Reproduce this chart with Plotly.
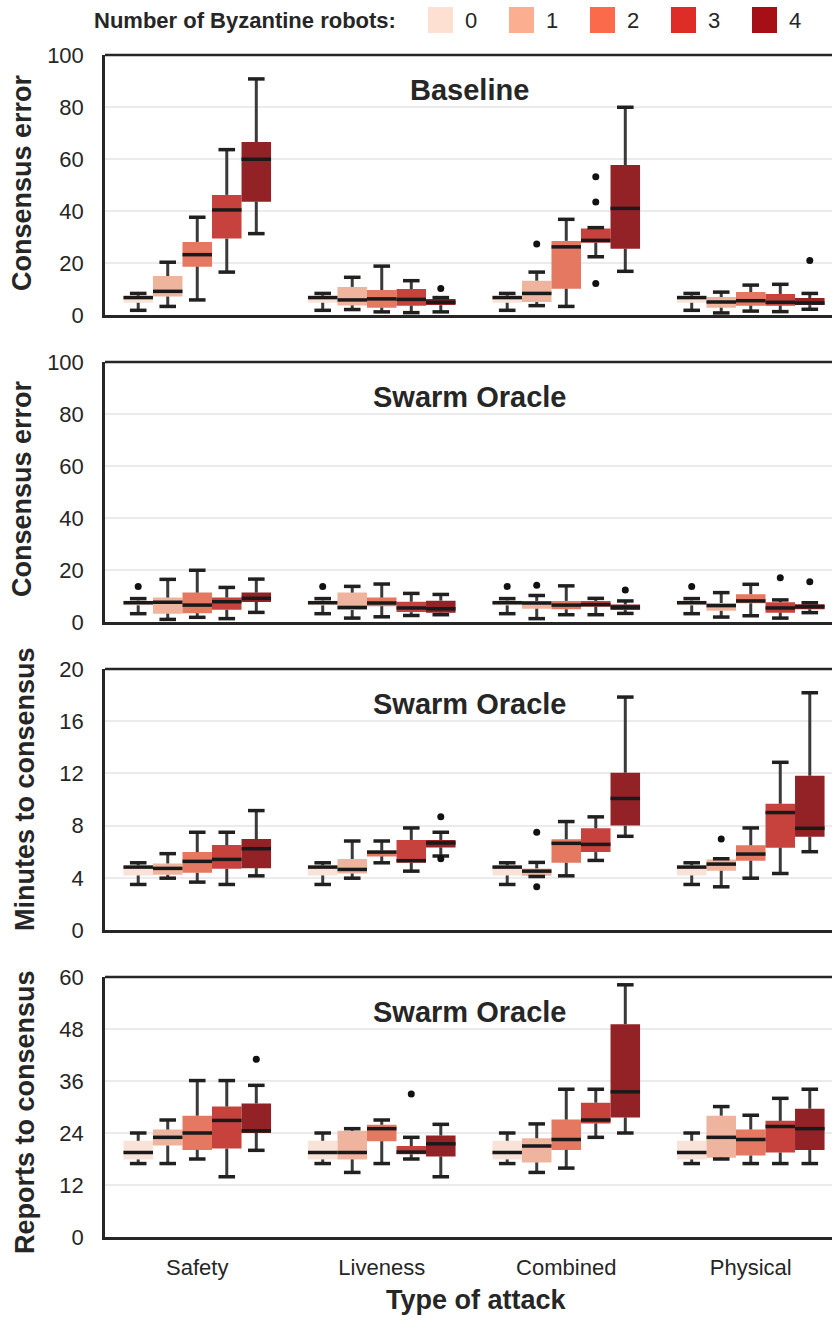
import plotly.graph_objects as go

# ---------------------------------------------------------------- data
ATTACKS = ["Safety", "Liveness", "Combined", "Physical"]
N_BYZANTINE = ["0", "1", "2", "3", "4"]

LEGEND_COLORS = ["#fee0d2", "#fcae91", "#fb6a4a", "#de2d26", "#a50f15"]
BOX_COLORS = ["#f9e2d8", "#efb49e", "#e57860", "#c7423d", "#922226"]

# Each array: [attack][number of Byzantine robots]
# Baseline - consensus error
base_err_low = [[1.8, 3.3, 5.8, 16.5, 31.3], [1.8, 2.1, 1.2, 0.9, 1.2],
                [1.8, 3.6, 3.3, 22.4, 16.8], [1.8, 0.8, 1.5, 1.3, 2.2]]
base_err_q1 = [[4.7, 7.1, 18.6, 29.4, 43.6], [4.7, 3.7, 2.8, 3.6, 3.8],
               [4.7, 5.0, 10.1, 27.8, 25.5], [4.7, 2.8, 3.6, 3.6, 3.8]]
base_err_med = [[6.7, 9.1, 23.2, 40.4, 59.9], [6.7, 5.8, 6.2, 6.0, 4.9],
                [6.7, 8.3, 26.2, 28.7, 41.0], [6.7, 5.0, 5.5, 4.9, 4.6]]
base_err_q3 = [[7.4, 15.0, 28.1, 46.2, 66.5], [7.4, 10.8, 9.6, 10.0, 6.2],
               [7.4, 13.2, 28.5, 33.3, 57.7], [7.4, 6.9, 8.8, 8.1, 6.5]]
base_err_high = [[8.3, 20.3, 37.6, 63.6, 90.8], [8.3, 14.5, 18.8, 13.2, 6.7],
                 [8.3, 16.5, 36.8, 33.6, 79.9], [8.3, 8.8, 11.5, 11.8, 8.3]]
base_err_out = [[[], [], [], [], []], [[], [], [], [], [10.2]],
                [[], [27.3], [], [53.2, 43.5, 12.1], []], [[], [], [], [], [21.0]]]

# Swarm Oracle - consensus error
orac_err_low = [[3.2, 1.0, 1.8, 1.3, 3.7], [3.2, 1.5, 2.0, 2.5, 2.8],
                [3.2, 1.3, 2.8, 2.8, 3.3], [3.2, 1.9, 2.4, 1.5, 3.6]]
orac_err_q1 = [[6.4, 3.2, 3.4, 4.7, 7.7], [6.4, 4.6, 6.1, 3.8, 3.6],
               [6.4, 5.1, 4.9, 5.9, 4.6], [6.4, 4.3, 7.2, 3.6, 4.9]]
orac_err_med = [[7.4, 7.6, 6.5, 7.8, 9.1], [7.4, 5.6, 7.3, 5.4, 5.1],
                [7.4, 7.3, 6.5, 6.7, 5.7], [7.4, 6.3, 8.1, 5.4, 5.9]]
orac_err_q3 = [[8.3, 9.4, 11.3, 9.4, 11.3], [8.3, 11.3, 9.4, 7.8, 8.2],
               [8.3, 8.1, 8.1, 8.1, 6.7], [8.3, 7.3, 10.7, 7.6, 6.8]]
orac_err_high = [[9.0, 16.4, 19.9, 13.3, 16.5], [9.0, 13.7, 14.6, 11.0, 10.6],
                 [9.0, 10.2, 13.9, 9.1, 8.1], [9.0, 11.3, 14.5, 8.5, 7.4]]
orac_err_out = [[[13.7], [], [], [], []], [[13.7], [], [], [], []],
                [[13.7], [14.1], [], [], [12.3]], [[13.7], [], [], [17.0], [15.5]]]

# Swarm Oracle - minutes to consensus
orac_min_low = [[3.49, 3.97, 3.67, 3.49, 4.15], [3.49, 3.97, 5.15, 4.51, 5.67],
                [3.49, 4.10, 4.15, 5.33, 7.18], [3.49, 3.31, 3.97, 4.33, 6.00]]
orac_min_q1 = [[4.18, 4.23, 4.38, 4.69, 4.74], [4.18, 4.33, 5.64, 5.15, 6.33],
               [4.18, 4.15, 5.15, 5.97, 8.00], [4.18, 4.54, 5.31, 6.31, 7.15]]
orac_min_med = [[4.82, 4.72, 5.26, 5.41, 6.23], [4.82, 4.64, 5.97, 5.31, 6.67],
                [4.82, 4.51, 6.64, 6.56, 10.08], [4.82, 5.05, 5.82, 9.00, 7.79]]
orac_min_q3 = [[4.95, 5.10, 5.97, 6.51, 6.97], [4.95, 5.44, 6.08, 6.90, 6.90],
               [4.95, 4.72, 6.95, 7.79, 12.05], [4.95, 5.41, 6.49, 9.67, 11.82]]
orac_min_high = [[5.15, 5.85, 7.49, 7.49, 9.15], [5.15, 6.82, 6.82, 7.82, 7.49],
                 [5.15, 5.18, 8.31, 8.67, 17.85], [5.15, 5.46, 7.82, 12.85, 18.18]]
orac_min_out = [[[], [], [], [], []], [[], [], [], [], [8.67, 5.46]],
                [[], [7.49, 3.31], [], [], []], [[], [6.97], [], [], []]]

# Swarm Oracle - reports to consensus
orac_rep_low = [[16.95, 16.95, 18.0, 13.9, 20.0], [16.95, 14.9, 16.95, 18.0, 13.9],
                [16.95, 14.9, 15.9, 23.0, 24.0], [16.95, 18.0, 16.95, 16.95, 16.95]]
orac_rep_q1 = [[17.9, 21.1, 20.1, 20.4, 24.0], [17.9, 17.9, 22.1, 19.1, 18.6],
               [17.9, 17.2, 20.1, 26.2, 27.6], [17.9, 18.3, 18.8, 19.5, 20.1]]
orac_rep_med = [[19.5, 23.0, 24.0, 26.9, 24.5], [19.5, 19.5, 25.0, 19.6, 21.5],
                [19.5, 21.0, 22.5, 27.0, 33.5], [19.5, 23.0, 22.5, 25.5, 25.0]]
orac_rep_q3 = [[22.2, 24.8, 28.0, 30.1, 30.8], [22.2, 24.5, 25.9, 21.0, 23.4],
               [22.2, 22.8, 27.1, 31.0, 49.1], [22.2, 28.0, 24.8, 26.8, 29.6]]
orac_rep_high = [[24.0, 27.0, 36.1, 36.1, 35.0], [24.0, 25.0, 27.0, 23.0, 26.0],
                 [24.0, 26.1, 34.1, 34.1, 58.2], [24.0, 30.1, 28.1, 32.0, 34.1]]
orac_rep_out = [[[], [], [], [], [41.0]], [[], [], [], [33.0], []],
                [[], [], [], [], []], [[], [], [], [], []]]

PANELS = [
    dict(title="Baseline", ylabel="Consensus error", ymax=100, dtick=20,
         low=base_err_low, q1=base_err_q1, med=base_err_med, q3=base_err_q3,
         high=base_err_high, out=base_err_out),
    dict(title="Swarm Oracle", ylabel="Consensus error", ymax=100, dtick=20,
         low=orac_err_low, q1=orac_err_q1, med=orac_err_med, q3=orac_err_q3,
         high=orac_err_high, out=orac_err_out),
    dict(title="Swarm Oracle", ylabel="Minutes to consensus", ymax=20, dtick=4,
         low=orac_min_low, q1=orac_min_q1, med=orac_min_med, q3=orac_min_q3,
         high=orac_min_high, out=orac_min_out),
    dict(title="Swarm Oracle", ylabel="Reports to consensus", ymax=60, dtick=12,
         low=orac_rep_low, q1=orac_rep_q1, med=orac_rep_med, q3=orac_rep_q3,
         high=orac_rep_high, out=orac_rep_out),
]

# ---------------------------------------------------------------- layout
W, H = 834, 1320
M_L, M_R, M_T, M_B = 105, 2, 55, 83
PANEL_PX = [(55, 315), (362, 622), (669, 930), (977, 1237)]   # top, bottom
YTITLE_PX = [(22, 183), (22, 489), (25, 789), (25, 1112)]      # centre x, y
PLOT_W = W - M_L - M_R
PLOT_H = H - M_T - M_B

FONT = "Liberation Sans, Arial, Helvetica, sans-serif"
INK = "#262626"
FRAME = "#262626"
WHISKER = "#3a3a3a"
CAP = "#202020"
MEDIAN = "#1a1a1a"

X_UNIT = 184.5                      # px per category
X_RANGE = [-0.5, -0.5 + PLOT_W / X_UNIT]
BOX_W = 0.16
CAP_HALF = 0.045


def pap_y(p):
    return (H - M_B - p) / PLOT_H


def pap_x(p):
    return (p - M_L) / PLOT_W


fig = go.Figure()

for i, pnl in enumerate(PANELS):
    sfx = "" if i == 0 else str(i + 1)
    xa, ya = "x" + sfx, "y" + sfx
    wx, wy, cx, cy, mx, my, ox, oy = [], [], [], [], [], [], [], []
    for a in range(len(ATTACKS)):
        for g in range(len(N_BYZANTINE)):
            pos = a + (g - 2) * BOX_W
            lo, q1, md, q3, hi = (pnl["low"][a][g], pnl["q1"][a][g], pnl["med"][a][g],
                                  pnl["q3"][a][g], pnl["high"][a][g])
            fig.add_trace(go.Box(
                x=[pos], q1=[q1], median=[md], q3=[q3], lowerfence=[lo], upperfence=[hi],
                width=BOX_W, fillcolor=BOX_COLORS[g], line=dict(width=0),
                boxpoints=False, showlegend=False, hoverinfo="skip",
                xaxis=xa, yaxis=ya))
            wx += [pos, pos, None, pos, pos, None]
            wy += [lo, q1, None, q3, hi, None]
            cx += [pos - CAP_HALF, pos + CAP_HALF, None, pos - CAP_HALF, pos + CAP_HALF, None]
            cy += [lo, lo, None, hi, hi, None]
            mx += [pos - BOX_W / 2, pos + BOX_W / 2, None]
            my += [md, md, None]
            for v in pnl["out"][a][g]:
                ox.append(pos)
                oy.append(v)
    fig.add_trace(go.Scatter(x=wx, y=wy, mode="lines", line=dict(color=WHISKER, width=3),
                             showlegend=False, hoverinfo="skip", xaxis=xa, yaxis=ya))
    fig.add_trace(go.Scatter(x=cx, y=cy, mode="lines", line=dict(color=CAP, width=3.5),
                             showlegend=False, hoverinfo="skip", xaxis=xa, yaxis=ya))
    fig.add_trace(go.Scatter(x=mx, y=my, mode="lines", line=dict(color=MEDIAN, width=3.5),
                             showlegend=False, hoverinfo="skip", xaxis=xa, yaxis=ya))
    fig.add_trace(go.Scatter(x=ox, y=oy, mode="markers",
                             marker=dict(color="#111111", size=7, line=dict(width=0)),
                             showlegend=False, hoverinfo="skip", xaxis=xa, yaxis=ya))

    top, bot = PANEL_PX[i]
    last = i == len(PANELS) - 1
    fig.update_layout(**{
        "xaxis" + sfx: dict(
            domain=[0, 1], anchor=ya, range=X_RANGE, showgrid=False, zeroline=False,
            showline=True, mirror=False, linecolor=FRAME, linewidth=2.5,
            tickvals=list(range(len(ATTACKS))), ticktext=ATTACKS, ticks="",
            showticklabels=last, ticklabelstandoff=9,
            tickfont=dict(family=FONT, size=22, color=INK)),
        "yaxis" + sfx: dict(
            domain=[pap_y(bot), pap_y(top)], anchor=xa, range=[0, pnl["ymax"]],
            tickmode="linear", tick0=0, dtick=pnl["dtick"], showgrid=True,
            gridcolor="#ebebeb", gridwidth=1.5, zeroline=False, showline=True,
            mirror=False, linecolor=FRAME, linewidth=2.5, ticks="", ticklabelstandoff=14,
            tickfont=dict(family=FONT, size=22, color=INK)),
    })
    # upper edge of the panel frame
    fig.add_shape(type="line", xref=xa + " domain", yref=ya + " domain",
                  x0=0, x1=1, y0=1, y1=1, line=dict(color=FRAME, width=2.5))

    fig.add_annotation(xref="paper", yref="paper", x=pap_x(469.5), y=pap_y(top + 35),
                       text="<b>%s</b>" % pnl["title"], showarrow=False,
                       xanchor="center", yanchor="middle",
                       font=dict(family=FONT, size=29, color=INK))
    tx, ty = YTITLE_PX[i]
    fig.add_annotation(xref="paper", yref="paper", x=pap_x(tx), y=pap_y(ty),
                       text="<b>%s</b>" % pnl["ylabel"], showarrow=False, textangle=-90,
                       xanchor="center", yanchor="middle",
                       font=dict(family=FONT, size=27, color=INK))

# x axis title
fig.add_annotation(xref="paper", yref="paper", x=pap_x(476), y=pap_y(1300),
                   text="<b>Type of attack</b>", showarrow=False,
                   xanchor="center", yanchor="middle",
                   font=dict(family=FONT, size=27, color=INK))

# legend row along the top
fig.add_annotation(xref="paper", yref="paper", x=pap_x(398), y=pap_y(20),
                   text="<b>Number of Byzantine robots:</b>", showarrow=False,
                   xanchor="right", yanchor="middle",
                   font=dict(family=FONT, size=22, color=INK))
for g, lab in enumerate(N_BYZANTINE):
    x0 = 428 + 81 * g
    fig.add_shape(type="rect", xref="paper", yref="paper",
                  x0=pap_x(x0), x1=pap_x(x0 + 25), y0=pap_y(33), y1=pap_y(7),
                  fillcolor=LEGEND_COLORS[g], line=dict(width=0))
    fig.add_annotation(xref="paper", yref="paper", x=pap_x(x0 + 43), y=pap_y(20),
                       text=lab, showarrow=False, xanchor="center", yanchor="middle",
                       font=dict(family=FONT, size=22, color=INK))

fig.update_layout(
    width=W, height=H, margin=dict(l=M_L, r=M_R, t=M_T, b=M_B, autoexpand=False),
    paper_bgcolor="white", plot_bgcolor="white", boxmode="overlay",
    showlegend=False, font=dict(family=FONT, color=INK),
)

fig.write_html("out.html")
